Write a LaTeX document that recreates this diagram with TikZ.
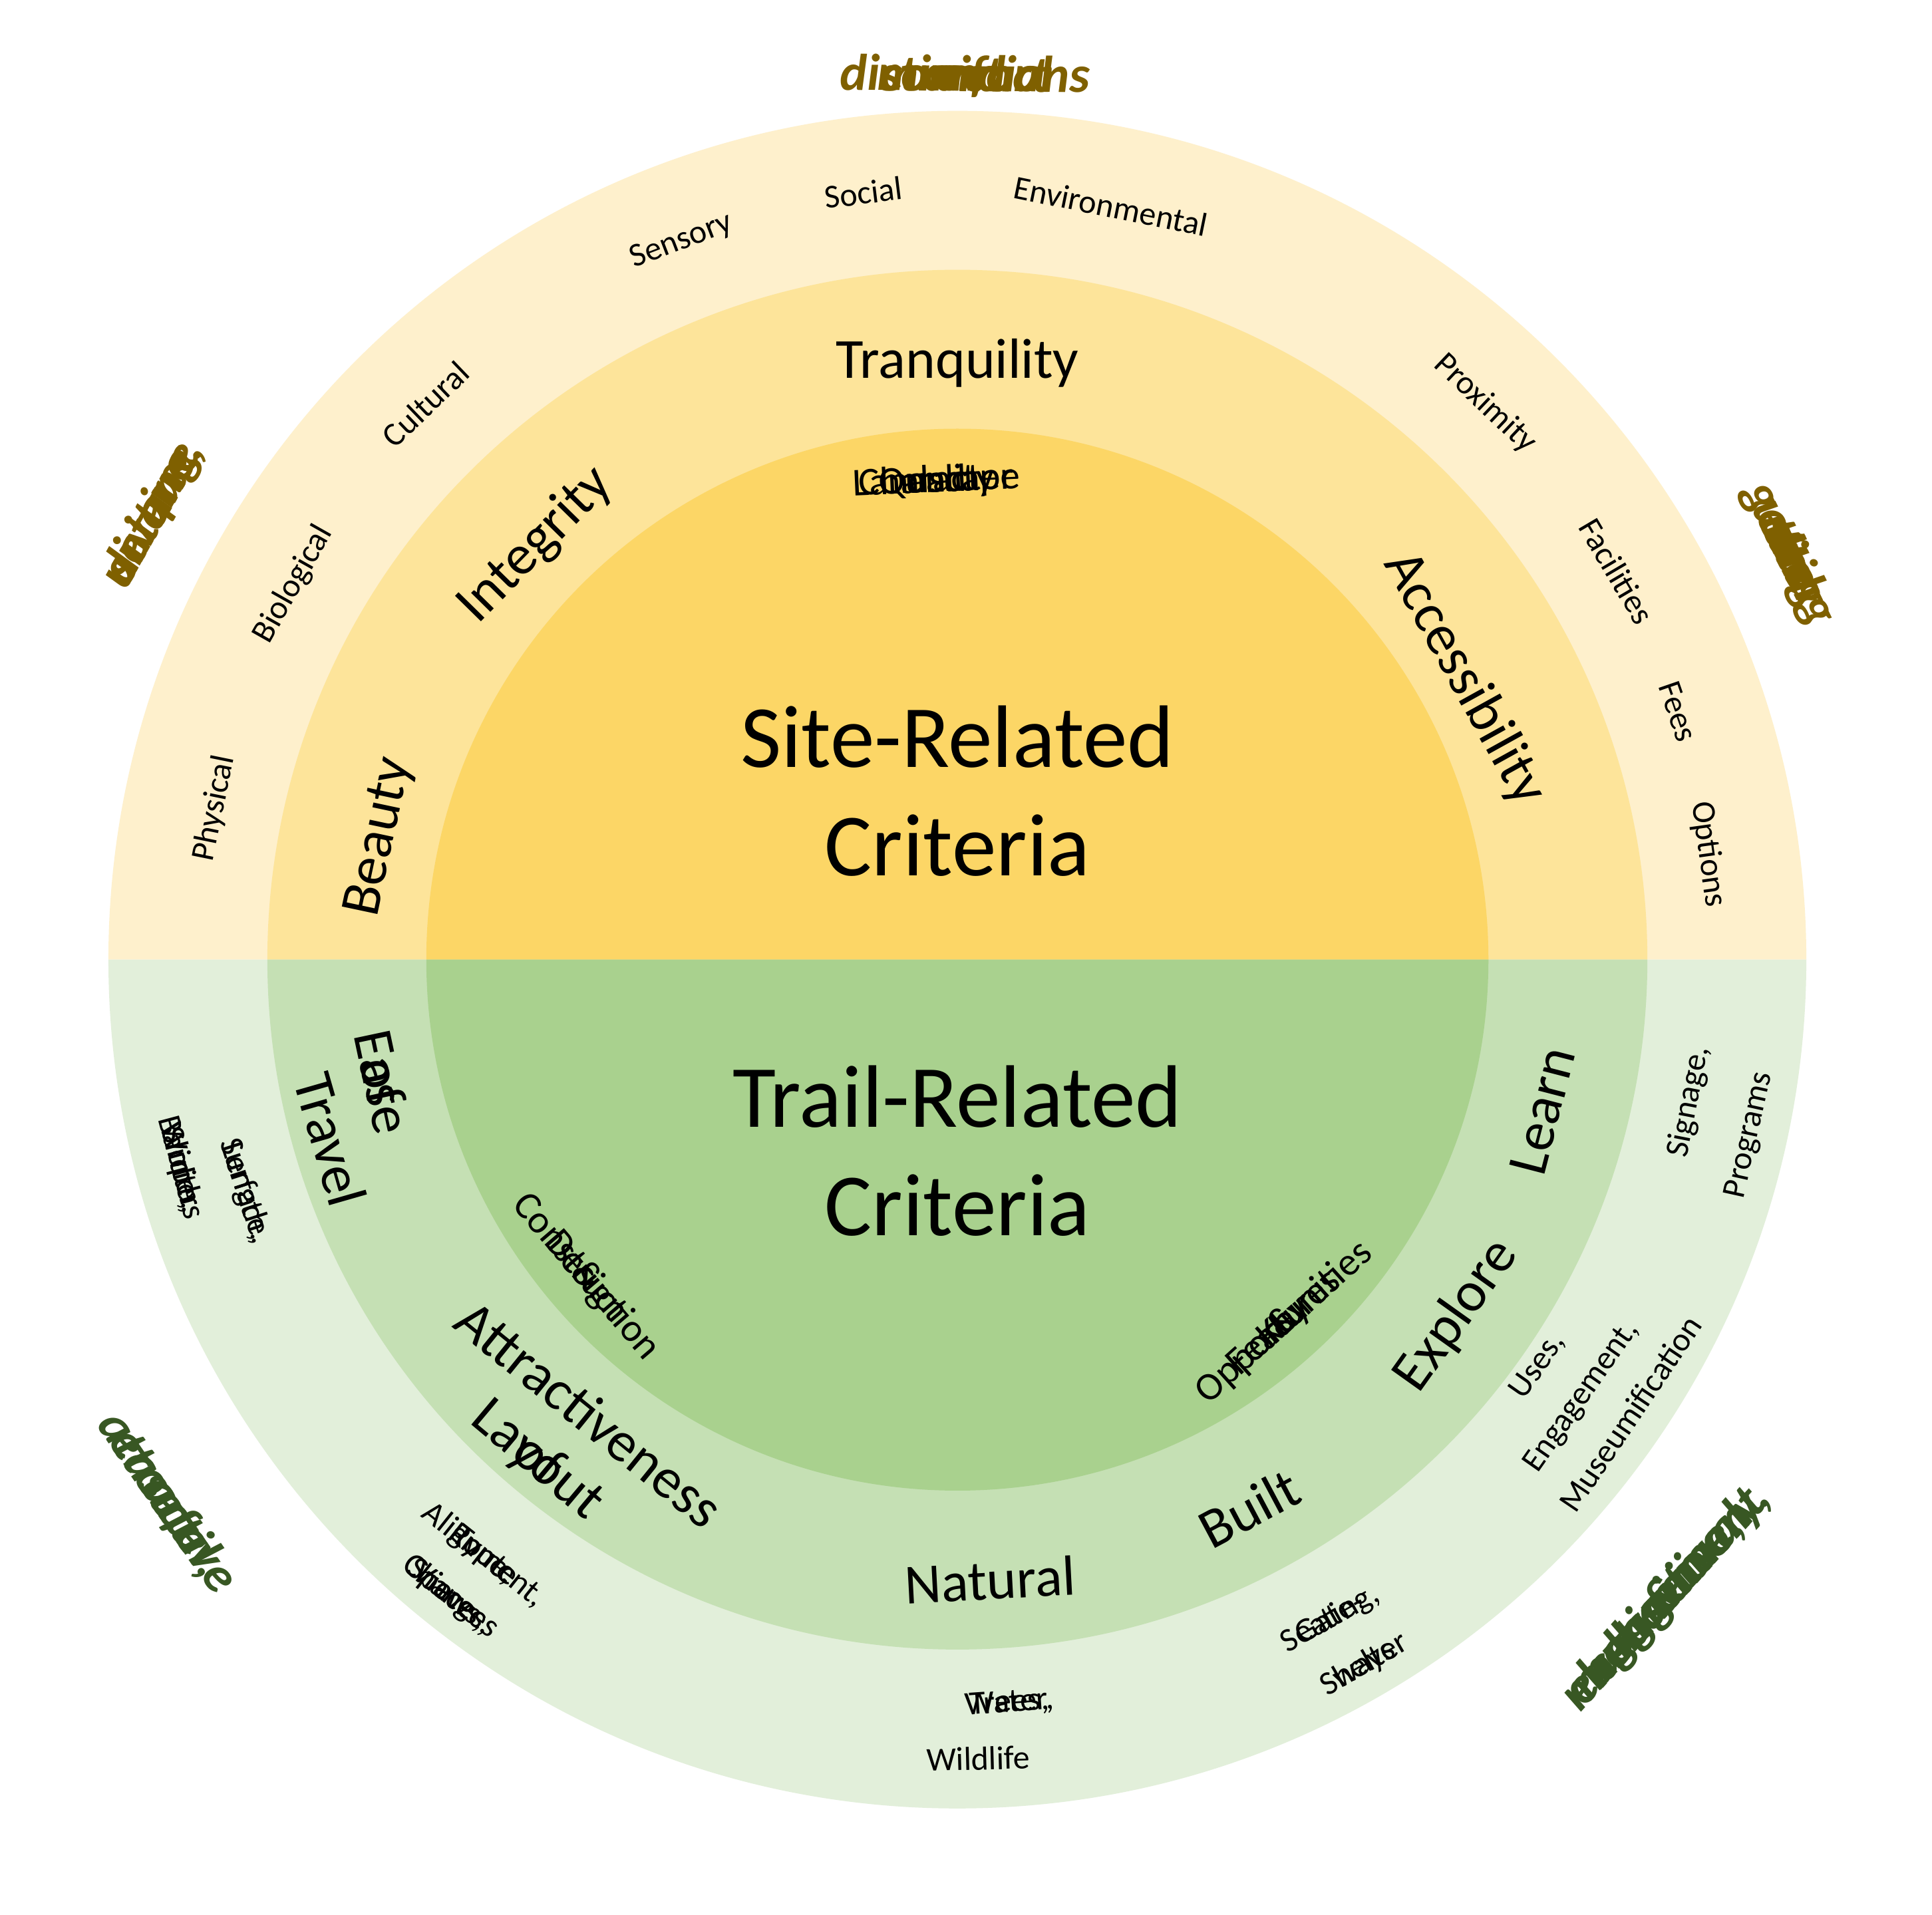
\documentclass[tikz,border=0pt]{standalone}
\usepackage{fontspec}
\setmainfont{Carlito}
\definecolor{oT}{HTML}{FEF0CC}\definecolor{mT}{HTML}{FDE49A}\definecolor{iT}{HTML}{FCD666}
\definecolor{oB}{HTML}{E2EFDA}\definecolor{mB}{HTML}{C5E0B4}\definecolor{iB}{HTML}{A9D18E}
\definecolor{olive}{HTML}{7F6000}\definecolor{dgreen}{HTML}{385723}
\newcommand\fS{\fontsize{27pt}{30pt}\selectfont}
\newcommand\fM{\fontsize{46pt}{50pt}\selectfont}
\newcommand\fI{\fontsize{32pt}{36pt}\selectfont}
\newcommand\fO{\fontsize{42pt}{46pt}\selectfont\bfseries\itshape}
\newdimen\Tw \newdimen\Cw \newdimen\Sw \newdimen\Ww
% #1 dir (1 top clockwise, -1 bottom ccw), #2 radius, #3 mid angle, #4 font, #5 colour, #6 words
\newcommand\curved[6]{%
 \setbox0\hbox{#4a b}\setbox2\hbox{#4ab}\Sw=\wd0 \advance\Sw by -\wd2
 \global\Tw=0pt
 \foreach \w in {#6}{\setbox0\hbox{#4\w}\global\advance\Tw by \wd0 \global\advance\Tw by \Sw}
 \global\advance\Tw by -\Sw
 \global\Cw=0pt
 \foreach \w in {#6}{%
  \setbox0\hbox{#4\w}\global\Ww=\wd0
  \pgfmathsetmacro\ang{#3-#1*(\the\Cw+0.5*\the\Ww-0.5*\the\Tw)/#2*57.29578}%
  \pgfmathsetmacro\rot{\ang-#1*90}%
  \node[anchor=base,rotate=\rot,inner sep=0pt,text=#5,font=#4] at (\ang:#2pt) {\w};%
  \global\advance\Cw by \Ww \global\advance\Cw by \Sw}%
}
\begin{document}
\begin{tikzpicture}[x=1pt,y=1pt]
\useasboundingbox (-777pt,-775pt) rectangle (791pt,779pt);
\fill[white] (-777pt,-775pt) rectangle (791pt,779pt);
\fill[oT] (689pt,0) arc[start angle=0,end angle=180,radius=689pt] -- cycle;
\fill[oB] (689pt,0) arc[start angle=0,end angle=-180,radius=689pt] -- cycle;
\fill[mT] (560pt,0) arc[start angle=0,end angle=180,radius=560pt] -- cycle;
\fill[mB] (560pt,0) arc[start angle=0,end angle=-180,radius=560pt] -- cycle;
\fill[iT] (431pt,0) arc[start angle=0,end angle=180,radius=431pt] -- cycle;
\fill[iB] (431pt,0) arc[start angle=0,end angle=-180,radius=431pt] -- cycle;
% centre
\node[font=\fontsize{72pt}{88pt}\selectfont,align=center] (site) at (0,137pt) {Site-Related\\Criteria};
\node[font=\fontsize{72pt}{88pt}\selectfont,align=center] (trail) at (0,-155pt) {Trail-Related\\Criteria};
% outer italic
\curved{1}{705}{89.5}{\fO}{olive}{comfort,and,minimal,distractions}
\curved{1}{735}{151}{\fO}{olive}{a,{unique,},diverse,setting}
\curved{1}{740}{26}{\fO}{olive}{getting,to,and,using,the,site}
\curved{-1}{785}{-42}{\fO}{dgreen}{{multisensory,},{cognitive,},\&,behavioral,engagement}
\curved{-1}{790}{-145.5}{\fO}{dgreen}{an,{easeful,},attractive,route}
% top outer ring
\curved{1}{608}{168.5}{\fS}{black}{Physical}
\curved{1}{612}{150.5}{\fS}{black}{Biological}
\curved{1}{615}{133.75}{\fS}{black}{Cultural}
\curved{1}{618}{111}{\fS}{black}{Sensory}
\curved{1}{618}{97}{\fS}{black}{Social}
\curved{1}{615}{78.5}{\fS}{black}{Environmental}
\curved{1}{615}{46.5}{\fS}{black}{Proximity}
\curved{1}{612}{30.5}{\fS}{black}{Facilities}
\curved{1}{610}{19}{\fS}{black}{Fees}
\curved{1}{608}{8}{\fS}{black}{Options}
% top middle ring
\curved{1}{468}{168}{\fM}{black}{Beauty}
\curved{1}{468}{135.5}{\fM}{black}{Integrity}
\curved{1}{472}{90}{\fM}{black}{Tranquility}
\curved{1}{458}{29}{\fM}{black}{Accessibility}
% inner top
\curved{1}{380}{92.5}{\fI}{black}{Landscape,Character,and,Quality}
% bottom outer ring
\curved{-1}{660}{-165}{\fS}{black}{{Width,},{Slope,},Barriers}
\curved{-1}{615}{-162}{\fS}{black}{{Length,},{Surface,}}
\curved{-1}{625}{-128.5}{\fS}{black}{{Alignment,},Route,{Type,}}
\curved{-1}{668}{-128.5}{\fS}{black}{{Views,},{Spaces,},Changes}
\curved{-1}{612}{-86}{\fS}{black}{{Trees,},{Water,}}
\curved{-1}{658}{-88.5}{\fS}{black}{Wildlife}
\curved{-1}{622}{-60.5}{\fS}{black}{{Seating,},Gate-}
\curved{-1}{668}{-60}{\fS}{black}{ways,{Shelter}}
\curved{-1}{582}{-35}{\fS}{black}{{Uses,}}
\curved{-1}{625}{-35}{\fS}{black}{{Engagement,}}
\curved{-1}{668}{-34}{\fS}{black}{Museumification}
\curved{-1}{612}{-11}{\fS}{black}{{Signage,}}
\curved{-1}{665}{-12.5}{\fS}{black}{Programs}
% bottom middle ring
\curved{-1}{492}{-168}{\fM}{black}{Ease,of}
\curved{-1}{545}{-164}{\fM}{black}{Travel}
\curved{-1}{490}{-129}{\fM}{black}{Attractiveness}
\curved{-1}{543}{-130}{\fM}{black}{of,Layout}
\curved{-1}{520}{-87}{\fM}{black}{Natural}
\curved{-1}{520}{-62}{\fM}{black}{Built}
\curved{-1}{510}{-35.5}{\fM}{black}{Explore}
\curved{-1}{505}{-14.5}{\fM}{black}{Learn}
% inner bottom
\curved{-1}{405}{-139.5}{\fI}{black}{Design,\&,Construction}
\curved{-1}{405}{-48}{\fI}{black}{Key,Features,\&,Opportunities}
\end{tikzpicture}
\end{document}
